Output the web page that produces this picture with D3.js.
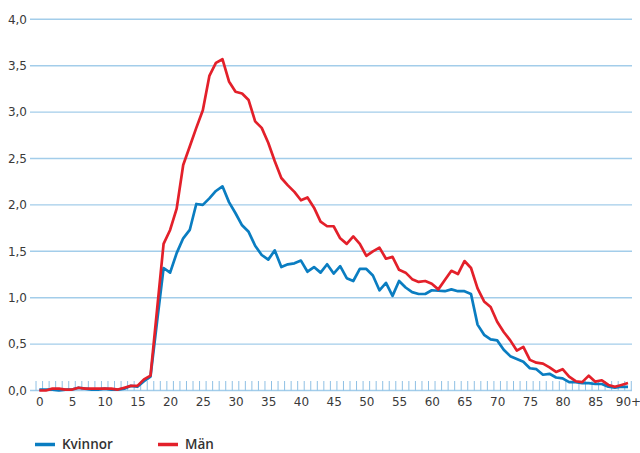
<!DOCTYPE html>
<html><head><meta charset="utf-8">
<script src="https://cdn.jsdelivr.net/npm/d3@7"></script>
<style>
html,body{margin:0;padding:0;background:#fff;overflow:hidden;}
svg{display:block;font-family:"DejaVu Sans",sans-serif;}
</style></head>
<body>
<svg id="chart" width="640" height="453"></svg>
<script>
const ages = d3.range(0, 91).map(a => a === 90 ? "90+" : String(a));
const kvinnor = [0.01,0.01,0.01,0.00,0.01,0.01,0.03,0.02,0.01,0.01,
  0.02,0.01,0.01,0.02,0.05,0.04,0.10,0.15,0.74,1.32,
  1.27,1.48,1.64,1.73,2.01,2.00,2.07,2.15,2.20,2.03,
  1.91,1.78,1.71,1.56,1.46,1.41,1.51,1.33,1.36,1.37,
  1.40,1.28,1.33,1.27,1.36,1.26,1.34,1.21,1.18,1.31,
  1.31,1.24,1.08,1.16,1.02,1.18,1.11,1.06,1.04,1.04,
  1.08,1.075,1.07,1.09,1.07,1.07,1.04,0.71,0.60,0.55,
  0.54,0.44,0.37,0.34,0.31,0.24,0.23,0.17,0.18,0.14,
  0.13,0.09,0.09,0.08,0.08,0.07,0.07,0.04,0.03,0.04,0.04];
const man = [0.00,0.00,0.02,0.02,0.01,0.01,0.03,0.02,0.02,0.02,
  0.02,0.02,0.01,0.03,0.05,0.05,0.12,0.16,0.87,1.58,
  1.73,1.96,2.43,2.63,2.83,3.02,3.39,3.53,3.57,3.33,
  3.22,3.20,3.13,2.90,2.83,2.67,2.47,2.29,2.21,2.14,
  2.05,2.08,1.97,1.82,1.77,1.77,1.64,1.58,1.66,1.58,
  1.45,1.50,1.54,1.42,1.44,1.30,1.27,1.20,1.17,1.18,
  1.15,1.09,1.19,1.29,1.255,1.395,1.32,1.10,0.96,0.90,
  0.74,0.63,0.54,0.43,0.47,0.33,0.30,0.29,0.25,0.20,
  0.23,0.15,0.10,0.09,0.16,0.095,0.11,0.06,0.04,0.06,0.08];
const yTicks = [0,0.5,1,1.5,2,2.5,3,3.5,4];
const xTickLabels = ["0","5","10","15","20","25","30","35","40","45","50","55","60","65","70","75","80","85","90+"];
const seriesNames = ["Kvinnor","Män"];
const seriesColors = ["#0a7dc1","#e3202a"];

const svg = d3.select("#chart");
const x = d3.scalePoint().domain(ages).range([39.3, 628]);
const y = d3.scaleLinear().domain([0,4]).range([390.5, 19.3]);
const step = x.step();
const fmt = v => d3.format(".1f")(v).replace(".", ",");

// gridlines
svg.append("g").selectAll("line").data(yTicks).join("line")
  .attr("x1", 30).attr("x2", 632)
  .attr("y1", d => y(d)).attr("y2", d => y(d))
  .attr("stroke", "#a3cdea").attr("stroke-width", 1.4);

// y labels via axis
const yAxis = svg.append("g").attr("transform", "translate(27,0)")
  .call(d3.axisLeft(y).tickValues(yTicks).tickFormat(fmt).tickSize(0).tickPadding(0));
yAxis.select(".domain").remove();
yAxis.selectAll("text").attr("font-size", 12).attr("fill", "#3a3a3a")
  .attr("font-family", "DejaVu Sans, sans-serif");

// small category ticks (between categories)
const tickPos = ages.map(a => x(a) - step/2).concat([x("90+") + step/2]);
svg.append("g").selectAll("line").data(tickPos).join("line")
  .attr("x1", d => d).attr("x2", d => d)
  .attr("y1", y(0) - 9.5).attr("y2", y(0))
  .attr("stroke", "#8fc0e4").attr("stroke-width", 1);

// x labels via axis
const xAxis = svg.append("g").attr("transform", `translate(0,${y(0)})`)
  .call(d3.axisBottom(x).tickValues(xTickLabels).tickSize(0).tickPadding(7));
xAxis.select(".domain").remove();
xAxis.selectAll("text").attr("font-size", 12).attr("fill", "#3a3a3a")
  .attr("font-family", "DejaVu Sans, sans-serif");

// lines
const line = d3.line().x((d,i) => x(ages[i])).y(d => y(d));
[kvinnor, man].forEach((s, k) => {
  svg.append("path").datum(s)
    .attr("fill", "none").attr("stroke", seriesColors[k])
    .attr("stroke-width", 2.7).attr("stroke-linejoin", "round")
    .attr("d", line);
});

// legend
const legX = [35, 158];
const lg = svg.append("g");
seriesNames.forEach((n, k) => {
  lg.append("line").attr("x1", legX[k]).attr("x2", legX[k] + 20)
    .attr("y1", 444.5).attr("y2", 444.5)
    .attr("stroke", seriesColors[k]).attr("stroke-width", 3.5);
  lg.append("text").attr("x", legX[k] + 27).attr("y", 449)
    .attr("font-size", 13.5).attr("font-weight", 600).attr("fill", "#333")
    .attr("font-family", "Open Sans, DejaVu Sans, sans-serif")
    .text(n);
});
</script>
</body></html>
